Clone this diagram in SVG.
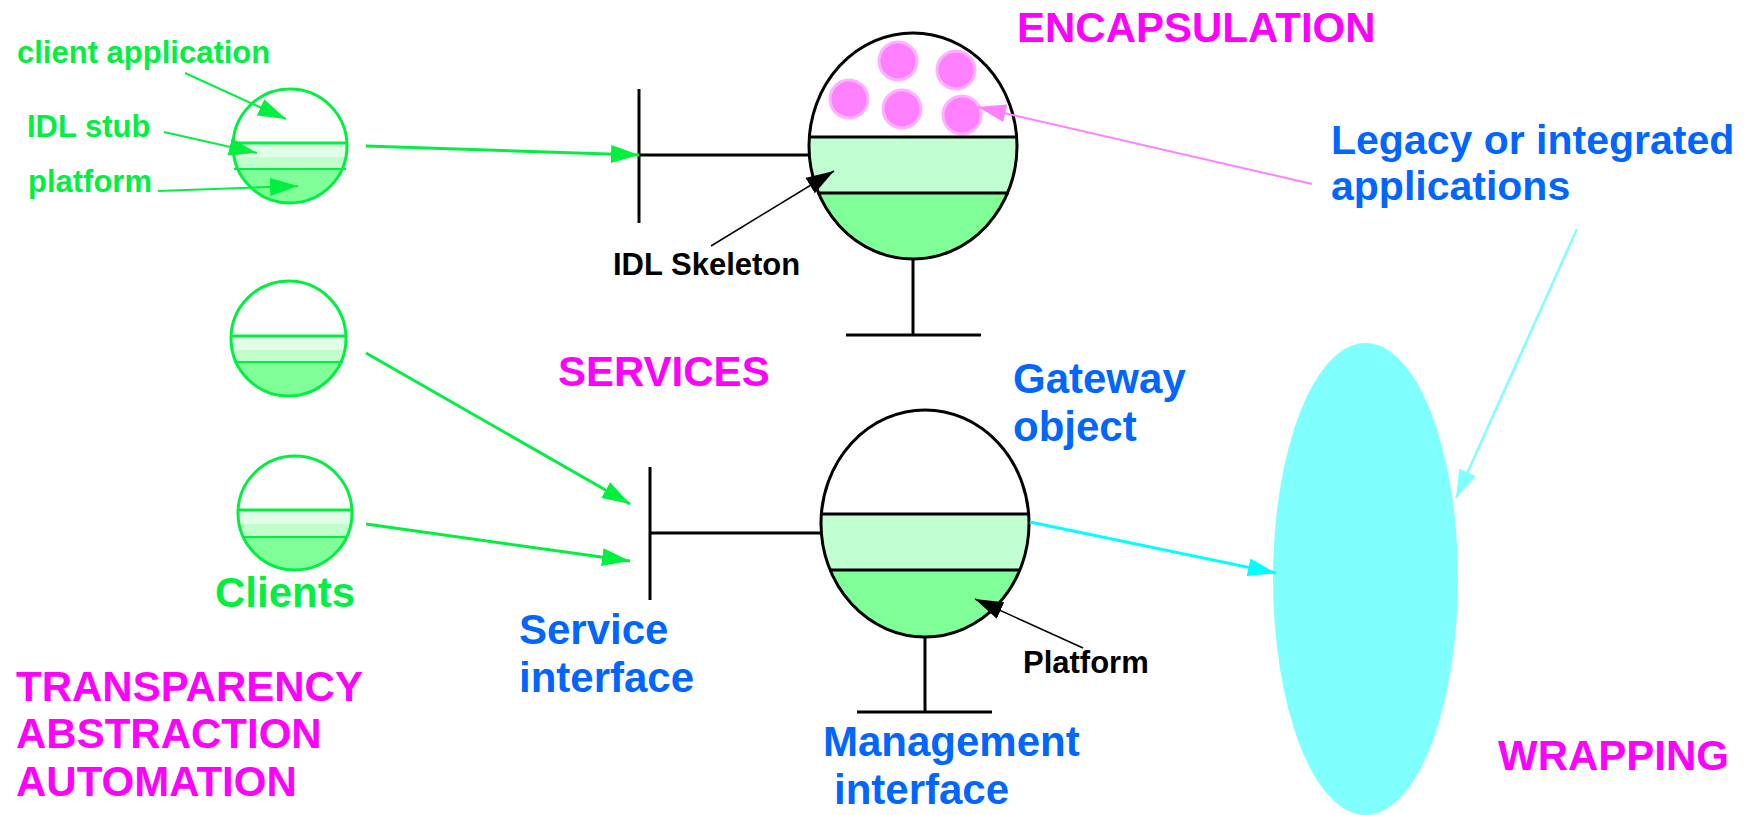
<svg xmlns="http://www.w3.org/2000/svg" width="1752" height="815" viewBox="0 0 1752 815">
<style>
text{font-family:"Liberation Sans",Arial,sans-serif;font-weight:bold}
.g{fill:#00f040}.m{fill:#ff00ff}.b{fill:#0066ff}.k{fill:#000}
.s31{font-size:31px}.s42{font-size:42px}
.cl{stroke:#00f040;stroke-width:3;fill:none}
.bk{stroke:#000;stroke-width:3;fill:none}
.w1{fill:#ffffff}.w2{fill:#e0ffe6}.w3{fill:#c0ffcc}.w4{fill:#80ff99}.w5{fill:#c0ffd0}
.pk{fill:#ff80ff;stroke:#ffb0ff;stroke-width:3}
</style>
<defs>
<marker id="ag" markerUnits="userSpaceOnUse" markerWidth="30" markerHeight="18" refX="28" refY="9" orient="auto"><path d="M0,0 L28,9 L0,18 z" fill="#00f040"/></marker>
<marker id="ak" markerUnits="userSpaceOnUse" markerWidth="30" markerHeight="18" refX="28" refY="9" orient="auto"><path d="M0,0 L28,9 L0,18 z" fill="#000"/></marker>
<marker id="ap" markerUnits="userSpaceOnUse" markerWidth="30" markerHeight="18" refX="28" refY="9" orient="auto"><path d="M0,0 L28,9 L0,18 z" fill="#ff80ff"/></marker>
<marker id="ac" markerUnits="userSpaceOnUse" markerWidth="30" markerHeight="18" refX="28" refY="9" orient="auto"><path d="M0,0 L28,9 L0,18 z" fill="#00ffff"/></marker>
<marker id="al" markerUnits="userSpaceOnUse" markerWidth="30" markerHeight="18" refX="28" refY="9" orient="auto"><path d="M0,0 L28,9 L0,18 z" fill="#80ffff"/></marker>
<clipPath id="c1"><circle cx="290" cy="146" r="57"/></clipPath>
<clipPath id="c2"><circle cx="288.5" cy="338.5" r="57.5"/></clipPath>
<clipPath id="c3"><circle cx="295" cy="513" r="57"/></clipPath>
<clipPath id="e1"><ellipse cx="913" cy="146" rx="104" ry="113"/></clipPath>
<clipPath id="e2"><ellipse cx="925" cy="523.5" rx="104" ry="113.5"/></clipPath>
</defs>

<g id="client1">
<g clip-path="url(#c1)">
<rect x="230" y="85" width="120" height="58" class="w1"/>
<rect x="230" y="143" width="120" height="14" class="w2"/>
<rect x="230" y="157" width="120" height="12" class="w3"/>
<rect x="230" y="169" width="120" height="40" class="w4"/>
</g>
<line x1="232" y1="143" x2="348" y2="143" class="cl"/>
<line x1="234" y1="169" x2="346" y2="169" stroke="#00f040" stroke-width="2"/>
<circle cx="290" cy="146" r="57" class="cl"/>
</g>

<g id="client2">
<g clip-path="url(#c2)">
<rect x="228" y="278" width="122" height="58" class="w1"/>
<rect x="228" y="336" width="122" height="14" class="w2"/>
<rect x="228" y="350" width="122" height="12" class="w3"/>
<rect x="228" y="362" width="122" height="40" class="w4"/>
</g>
<line x1="231" y1="336" x2="346" y2="336" class="cl"/>
<line x1="234" y1="362" x2="343" y2="362" stroke="#00f040" stroke-width="2"/>
<circle cx="288.5" cy="338.5" r="57.5" class="cl"/>
</g>

<g id="client3">
<g clip-path="url(#c3)">
<rect x="235" y="452" width="122" height="58" class="w1"/>
<rect x="235" y="510" width="122" height="14" class="w2"/>
<rect x="235" y="524" width="122" height="13" class="w3"/>
<rect x="235" y="537" width="122" height="40" class="w4"/>
</g>
<line x1="238" y1="510" x2="352" y2="510" class="cl"/>
<line x1="242" y1="537" x2="348" y2="537" stroke="#00f040" stroke-width="2"/>
<circle cx="295" cy="513" r="57" class="cl"/>
</g>

<g id="server">
<g clip-path="url(#e1)">
<rect x="805" y="30" width="216" height="107" class="w1"/>
<rect x="805" y="137" width="216" height="56" class="w5"/>
<rect x="805" y="193" width="216" height="70" class="w4"/>
</g>
<circle cx="898" cy="61" r="19" class="pk"/>
<circle cx="956" cy="70" r="19" class="pk"/>
<circle cx="849" cy="99" r="19" class="pk"/>
<circle cx="902" cy="109" r="19" class="pk"/>
<circle cx="962" cy="115" r="19" class="pk"/>
<line x1="810" y1="137" x2="1016" y2="137" class="bk"/>
<line x1="817" y1="193" x2="1009" y2="193" class="bk"/>
<ellipse cx="913" cy="146" rx="104" ry="113" class="bk"/>
<line x1="913" y1="259" x2="913" y2="335" class="bk"/>
<line x1="846" y1="335" x2="981" y2="335" class="bk"/>
<line x1="639" y1="155" x2="810" y2="155" class="bk"/>
<line x1="639" y1="89" x2="639" y2="223" class="bk"/>
</g>

<g id="gateway">
<g clip-path="url(#e2)">
<rect x="817" y="406" width="216" height="108" class="w1"/>
<rect x="817" y="514" width="216" height="56" class="w5"/>
<rect x="817" y="570" width="216" height="72" class="w4"/>
</g>
<line x1="822" y1="514" x2="1028" y2="514" class="bk"/>
<line x1="829" y1="570" x2="1021" y2="570" class="bk"/>
<ellipse cx="925" cy="523.5" rx="104" ry="113.5" class="bk"/>
<line x1="925" y1="637" x2="925" y2="712" class="bk"/>
<line x1="857" y1="712" x2="992" y2="712" class="bk"/>
<line x1="650" y1="533" x2="822" y2="533" class="bk"/>
<line x1="650" y1="467" x2="650" y2="600" class="bk"/>
</g>

<g id="legacy">
<ellipse cx="1365.5" cy="579" rx="92.5" ry="236" fill="#80ffff"/>
</g>

<g id="connectors">
<line x1="185" y1="73" x2="286" y2="119" stroke="#00f040" stroke-width="2" marker-end="url(#ag)"/>
<line x1="164" y1="132" x2="257" y2="153" stroke="#00f040" stroke-width="2" marker-end="url(#ag)"/>
<line x1="158" y1="191" x2="298" y2="186" stroke="#00f040" stroke-width="2" marker-end="url(#ag)"/>
<line x1="366" y1="146" x2="639" y2="155" stroke="#00f040" stroke-width="3" marker-end="url(#ag)"/>
<line x1="366" y1="353" x2="630" y2="504" stroke="#00f040" stroke-width="3" marker-end="url(#ag)"/>
<line x1="366" y1="524" x2="630" y2="561" stroke="#00f040" stroke-width="3" marker-end="url(#ag)"/>
<line x1="711" y1="246" x2="834" y2="171" stroke="#000" stroke-width="1.5" marker-end="url(#ak)"/>
<line x1="1083" y1="648" x2="975" y2="599" stroke="#000" stroke-width="1.5" marker-end="url(#ak)"/>
<line x1="1312" y1="184" x2="978" y2="107" stroke="#ff80ff" stroke-width="2" marker-end="url(#ap)"/>
<line x1="1030" y1="522" x2="1276" y2="573" stroke="#00ffff" stroke-width="3" marker-end="url(#ac)"/>
<line x1="1577" y1="229" x2="1456" y2="498" stroke="#80ffff" stroke-width="2.5" marker-end="url(#al)"/>
</g>

<g id="labels">
<text x="17" y="63" class="g s31">client application</text>
<text x="27" y="137" class="g s31">IDL stub</text>
<text x="28" y="192" class="g s31">platform</text>
<text x="215" y="607" class="g" font-size="42">Clients</text>
<text x="613" y="275" class="k s31">IDL Skeleton</text>
<text x="1023" y="673" class="k s31">Platform</text>
<text x="1017" y="42" class="m s42">ENCAPSULATION</text>
<text x="558" y="386" class="m s42">SERVICES</text>
<text x="1498" y="770" class="m s42">WRAPPING</text>
<text class="m s42"><tspan x="16" y="701">TRANSPARENCY</tspan><tspan x="16" y="748">ABSTRACTION</tspan><tspan x="16" y="796">AUTOMATION</tspan></text>
<text class="b" font-size="41"><tspan x="1331" y="154">Legacy or integrated</tspan><tspan x="1331" y="200">applications</tspan></text>
<text class="b s42"><tspan x="1013" y="393">Gateway</tspan><tspan x="1013" y="441">object</tspan></text>
<text class="b s42"><tspan x="519" y="644">Service</tspan><tspan x="519" y="692">interface</tspan></text>
<text class="b s42"><tspan x="823" y="756">Management</tspan><tspan x="834" y="804">interface</tspan></text>
</g>
</svg>
